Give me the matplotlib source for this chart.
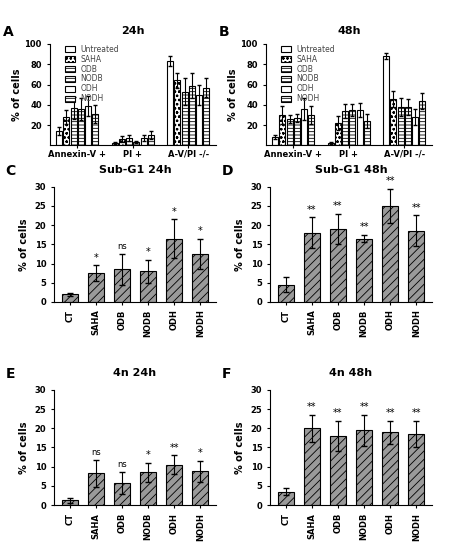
import matplotlib
matplotlib.use("Agg")
import matplotlib.pyplot as plt
import numpy as np

plt.rcParams['font.family'] = ['DejaVu Sans']
plt.rcParams['hatch.linewidth'] = 0.6

series = ["Untreated", "SAHA", "ODB", "NODB", "ODH", "NODH"]
groups = ["Annexin-V +", "PI +", "A-V/PI -/-"]
a24 = [[14, 28, 37, 36, 39, 31], [2, 6, 7, 3, 7, 10], [83, 64, 53, 59, 50, 57]]
a24e = [[4, 7, 11, 11, 10, 9], [1, 3, 3, 1, 3, 4], [5, 7, 13, 12, 10, 9]]
b48 = [[8, 30, 26, 27, 36, 30], [2, 22, 34, 35, 35, 24], [88, 46, 38, 38, 28, 44]]
b48e = [[2, 9, 4, 4, 11, 9], [1, 7, 7, 6, 7, 7], [3, 8, 9, 8, 8, 8]]

cats = ["CT", "SAHA", "ODB", "NODB", "ODH", "NODH"]
c_vals = [2, 7.5, 8.5, 8, 16.5, 12.5]; c_err = [0.4, 2, 4, 3, 5, 4]
c_sig = ["", "*", "ns", "*", "*", "*"]
d_vals = [4.5, 18, 19, 16.5, 25, 18.5]; d_err = [2, 4, 4, 1, 4.5, 4]
d_sig = ["", "**", "**", "**", "**", "**"]
e_vals = [1.2, 8.3, 5.8, 8.5, 10.5, 8.8]; e_err = [0.7, 3.5, 2.8, 2.5, 2.5, 2.7]
e_sig = ["", "ns", "ns", "*", "**", "*"]
f_vals = [3.5, 20, 18, 19.5, 19, 18.5]; f_err = [1, 3.5, 4, 4, 3, 3.5]
f_sig = ["", "**", "**", "**", "**", "**"]

fig = plt.figure(figsize=(4.5, 5.49), dpi=100)
hatches = [None, "oooo", "-----", "-----", None, "-----"]

def style(ax):
    for s in ["top", "right"]:
        ax.spines[s].set_visible(False)
    ax.tick_params(labelsize=6, width=0.8, length=2)
    for lbl in ax.get_yticklabels():
        lbl.set_fontweight("bold")

def grouped(rect, vals, errs, title, letter):
    ax = fig.add_axes(rect)
    w = 0.13
    for j, s in enumerate(series):
        x = np.arange(3) + (j - 2.5) * w
        ax.bar(x, [v[j] for v in vals], w * 0.85, yerr=[e[j] for e in errs],
               facecolor="white", edgecolor="black", hatch=hatches[j],
               linewidth=0.8, error_kw=dict(elinewidth=0.8, capsize=1.5),
               label=s)
    ax.set_ylim(0, 100)
    ax.set_yticks([20, 40, 60, 80, 100])
    ax.set_xticks(range(3))
    ax.set_xticklabels(groups, fontsize=5.5, fontweight="bold")
    ax.tick_params(axis="x", pad=1)
    ax.set_xlim(-0.5, 2.5)
    ax.set_ylabel("% of cells", fontsize=7, fontweight="bold", labelpad=2)
    style(ax)
    ax.legend(loc="upper left", bbox_to_anchor=(0.05, 1.06), fontsize=5.5,
              frameon=False, handlelength=1.3, handleheight=0.8, labelspacing=0.12,
              labelcolor="#444444")
    ax.text(0.5, 1.1, title, transform=ax.transAxes, ha="center", fontsize=8, fontweight="bold")
    ax.text(-0.28, 1.08, letter, transform=ax.transAxes, fontsize=10, fontweight="bold")

def single(rect, vals, errs, sig, title, letter):
    ax = fig.add_axes(rect)
    x = np.arange(len(cats))
    ax.bar(x, vals, 0.6, yerr=errs, facecolor="#9a9a9a", edgecolor="black",
           hatch="////", linewidth=0.8, error_kw=dict(elinewidth=0.8, capsize=2.5))
    for xi, v, e, s in zip(x, vals, errs, sig):
        if s:
            ax.text(xi, v + e + 1.2, s, ha="center", fontsize=7 if s != "ns" else 6)
    ax.set_ylim(0, 30)
    ax.set_yticks(range(0, 31, 5))
    ax.set_xticks(x)
    ax.set_xticklabels(cats, rotation=90, fontsize=6, fontweight="bold")
    ax.set_xlim(-0.6, 5.6)
    ax.set_ylabel("% of cells", fontsize=7, fontweight="bold")
    style(ax)
    ax.text(0.5, 1.12, title, transform=ax.transAxes, ha="center", fontsize=8, fontweight="bold")
    ax.text(-0.3, 1.1, letter, transform=ax.transAxes, fontsize=10, fontweight="bold")

grouped([0.11, 0.735, 0.37, 0.185], a24, a24e, "24h", "A")
grouped([0.59, 0.735, 0.37, 0.185], b48, b48e, "48h", "B")
single([0.12, 0.45, 0.36, 0.21], c_vals, c_err, c_sig, "Sub-G1 24h", "C")
single([0.6, 0.45, 0.36, 0.21], d_vals, d_err, d_sig, "Sub-G1 48h", "D")
single([0.12, 0.08, 0.36, 0.21], e_vals, e_err, e_sig, "4n 24h", "E")
single([0.6, 0.08, 0.36, 0.21], f_vals, f_err, f_sig, "4n 48h", "F")

fig.savefig("out.png", dpi=100)
